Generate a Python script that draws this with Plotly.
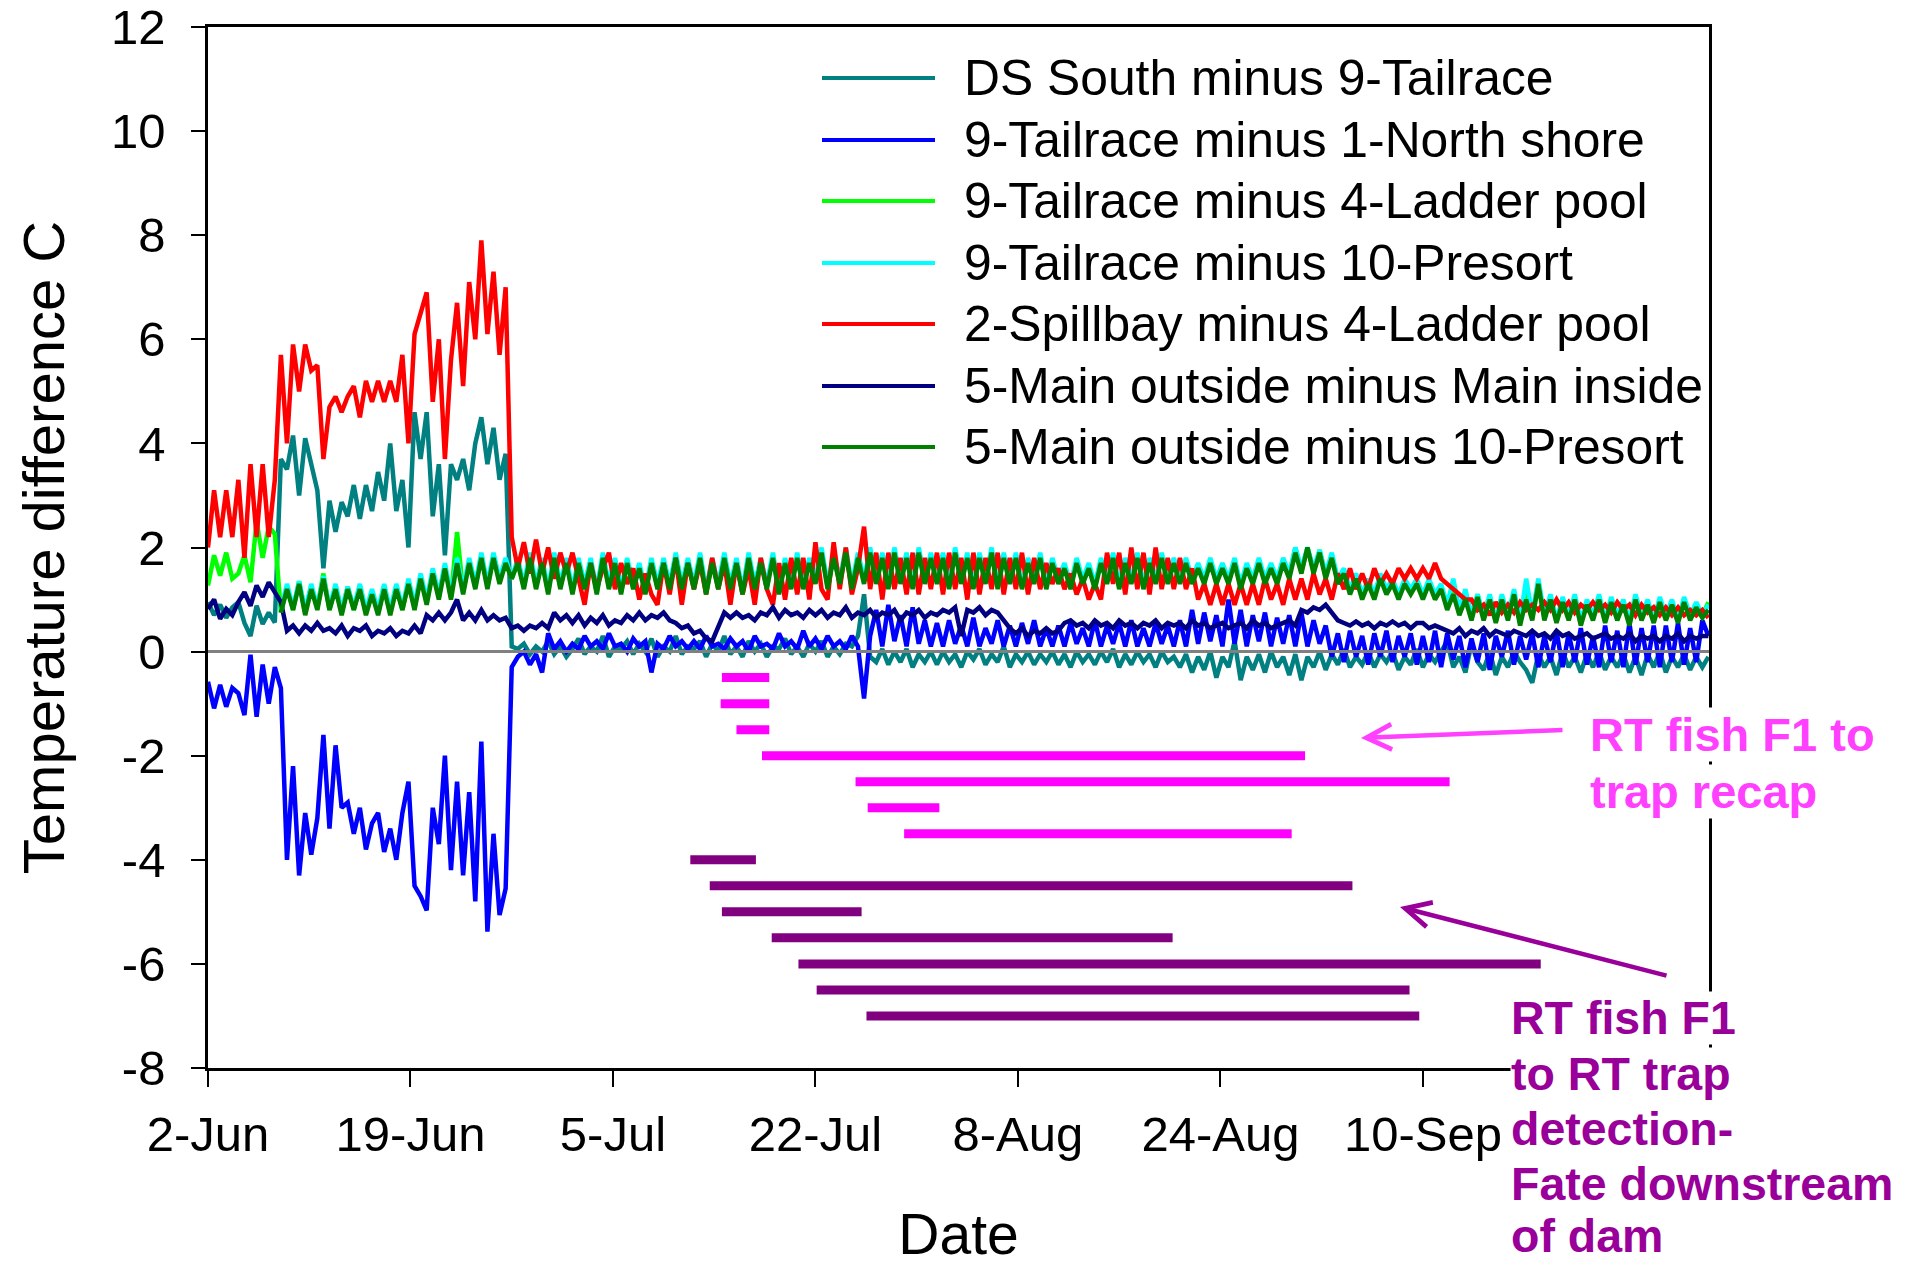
import pandas as pd
import plotly.graph_objects as go

# ---------------- data (half-day samples starting 2-Jun) ----------------
START = pd.Timestamp("2009-06-02")

tick_days = [0, 16.667, 33.333, 50, 66.667, 83.333, 100]
tick_labels = ["2-Jun", "19-Jun", "5-Jul", "22-Jul", "8-Aug", "24-Aug", "10-Sep"]
y_ticks = [-8, -6, -4, -2, 0, 2, 4, 6, 8, 10, 12]
y_labels = ["-8", "-6", "-4", "-2", "0", "2", "4", "6", "8", "10", "12"]

series_names = [
    "DS South minus 9-Tailrace",
    "9-Tailrace minus 1-North shore",
    "9-Tailrace minus 4-Ladder pool",
    "9-Tailrace minus 10-Presort",
    "2-Spillbay minus 4-Ladder pool",
    "5-Main outside minus Main inside",
    "5-Main outside minus 10-Presort",
]
series_colors = ["#008080", "#0000FF", "#00FF00", "#00FFFF", "#FF0000", "#000080", "#008000"]

ds_south_minus_tailrace = [
    0.95, 0.7, 0.9, 0.65, 0.85, 0.95, 0.55, 0.3, 0.88, 0.53, 0.75, 0.56, 3.7, 3.5, 4.15, 3.0, 4.1, 3.6, 3.1, 1.6,
    2.9, 2.3, 2.87, 2.6, 3.2, 2.55, 3.2, 2.7, 3.45, 2.9, 4.0, 2.7, 3.3, 2.0, 4.6, 3.7, 4.6, 2.6, 3.6, 1.85,
    3.6, 3.3, 3.7, 3.1, 4.0, 4.5, 3.6, 4.3, 3.3, 3.8, 0.1, 0.05, 0.15, -0.05, 0.1, 0.0, 0.2, -0.05, 0.1, -0.1,
    0.05, 0.25, -0.05, 0.1, 0.0, 0.3, -0.1, 0.1, 0.05, 0.2, -0.05, 0.15, 0.0, 0.25, -0.1, 0.1, 0.0, 0.3, -0.05, 0.1,
    0.05, 0.2, -0.1, 0.15, 0.0, 0.3, -0.05, 0.1, -0.1, 0.2, 0.0, 0.15, -0.1, 0.1, 0.05, 0.25, -0.05, 0.1, -0.1, 0.15,
    0.0, 0.2, -0.1, 0.1, -0.05, 0.15, 0.1, 0.3, 1.1, -0.1, -0.2, 0.05, -0.25, 0.0, -0.2, 0.05, -0.3, -0.05, -0.2, 0.0,
    -0.25, 0.0, -0.2, -0.05, -0.3, 0.0, -0.15, 0.05, -0.25, -0.05, -0.2, 0.1, -0.3, -0.05, -0.2, 0.0, -0.25, -0.05, -0.2, 0.0,
    -0.25, -0.05, -0.3, 0.0, -0.2, -0.05, -0.25, 0.0, -0.2, 0.05, -0.3, -0.05, -0.25, 0.0, -0.2, -0.05, -0.3, 0.0, -0.2, -0.1,
    -0.3, -0.05, -0.4, -0.1, -0.35, 0.0, -0.5, -0.1, -0.3, 0.2, -0.55, -0.1, -0.35, -0.05, -0.4, 0.0, -0.3, -0.1, -0.45, -0.05,
    -0.55, -0.1, -0.3, 0.0, -0.35, -0.05, -0.25, 0.05, -0.3, -0.1, -0.25, 0.0, -0.3, -0.05, -0.2, 0.0, -0.35, -0.1, -0.25, 0.05,
    -0.3, -0.05, -0.2, 0.0, 0.2, -0.3, -0.1, -0.4, 0.15, -0.2, -0.35, 0.0, -0.45, -0.1, -0.3, 0.0, -0.2, -0.35, -0.6, -0.05,
    -0.3, -0.1, -0.45, 0.0, -0.3, -0.1, -0.4, -0.05, -0.3, 0.0, -0.35, -0.1, -0.3, -0.05, -0.4, -0.1, -0.45, -0.05, -0.3, 0.0,
    -0.4, -0.1, -0.3, -0.05, -0.35, -0.1, -0.3, -0.1,
]

tailrace_minus_north_shore = [
    -0.58, -1.09, -0.64, -1.06, -0.7, -0.8, -1.22, -0.06, -1.25, -0.25, -1.0, -0.3, -0.7, -4.0, -2.2, -4.3, -3.1, -3.9, -3.2, -1.6,
    -3.4, -1.8, -3.0, -2.9, -3.5, -3.0, -3.8, -3.3, -3.1, -3.85, -3.4, -4.0, -3.1, -2.5, -4.5, -4.7, -4.97, -3.0, -3.7, -2.0,
    -4.2, -2.5, -4.3, -2.7, -4.8, -1.73, -5.38, -3.5, -5.06, -4.55, -0.3, -0.1, 0.0, -0.25, -0.05, -0.4, 0.35, 0.05, 0.2, 0.0,
    0.15, 0.05, 0.3, 0.1, 0.2, 0.05, 0.35, 0.1, 0.15, 0.0, 0.25, 0.1, 0.2, -0.4, 0.15, 0.05, 0.3, 0.1, 0.2, 0.05,
    0.2, 0.05, 0.3, 0.1, 0.15, 0.05, 0.25, 0.1, 0.2, 0.0, 0.3, 0.1, 0.15, 0.05, 0.35, 0.1, 0.2, 0.05, 0.4, 0.1,
    0.25, 0.05, 0.3, 0.1, 0.2, 0.05, 0.3, 0.1, -0.9, 0.3, 0.8, 0.1, 0.9, 0.2, 0.7, 0.1, 0.85, 0.15, 0.6, 0.1,
    0.55, 0.1, 0.6, 0.15, 0.5, 0.1, 0.65, 0.1, 0.45, 0.15, 0.6, 0.1, 0.5, 0.1, 0.55, 0.15, 0.6, 0.1, 0.45, 0.1,
    0.5, 0.1, 0.55, 0.15, 0.45, 0.1, 0.6, 0.1, 0.5, 0.15, 0.55, 0.1, 0.6, 0.1, 0.45, 0.1, 0.55, 0.15, 0.5, 0.1,
    0.6, 0.1, 0.8, 0.15, 0.75, 0.2, 0.7, 0.1, 1.0, 0.15, 0.8, 0.1, 0.7, 0.2, 0.75, 0.1, 0.65, 0.15, 0.7, 0.1,
    0.75, 0.1, 0.6, 0.15, 0.5, -0.1, 0.35, -0.2, 0.4, -0.1, 0.3, -0.25, 0.35, -0.1, 0.4, -0.2, 0.3, -0.1, 0.35, -0.25,
    0.3, -0.2, 0.4, -0.3, 0.35, -0.15, 0.3, -0.3, 0.25, -0.2, 0.35, -0.35, 0.3, -0.1, 0.4, -0.25, 0.3, -0.15, 0.35, -0.3,
    0.3, -0.2, 0.4, -0.3, 0.35, -0.2, 0.45, -0.25, 0.3, -0.3, 0.5, -0.2, 0.4, -0.3, 0.55, -0.25, 0.45, -0.2, 0.5, -0.3,
    0.5, -0.2, 0.55, -0.25, 0.45, -0.2, 0.6, 0.3,
]

tailrace_minus_ladder_pool = [
    1.27, 1.85, 1.46, 1.9, 1.4, 1.5, 1.85, 1.33, 2.5, 1.8, 2.4, 2.26, 0.75, 1.25, 0.8, 1.35, 0.75, 1.25, 0.85, 1.5,
    0.8, 1.25, 0.75, 1.25, 0.8, 1.25, 0.75, 1.15, 0.75, 1.25, 0.75, 1.25, 0.8, 1.35, 0.85, 1.45, 0.95, 1.55, 1.05, 1.65,
    1.05, 2.3, 1.15, 1.75, 1.25, 1.85, 1.25, 1.85, 1.35, 1.75, 1.4, 1.75, 1.25, 1.85, 1.25, 1.75, 1.15, 1.85, 1.25, 1.75,
    1.15, 1.75, 1.25, 1.75, 1.15, 1.85, 1.25, 1.75, 1.15, 1.75, 1.25, 1.65, 1.15, 1.75, 1.25, 1.75, 1.25, 1.85, 1.25, 1.75,
    1.25, 1.85, 1.15, 1.75, 1.25, 1.85, 1.25, 1.75, 1.15, 1.85, 1.25, 1.75, 1.25, 1.85, 1.15, 1.75, 1.25, 1.85, 1.25, 1.75,
    1.35, 1.95, 1.25, 1.85, 1.35, 1.95, 1.25, 1.85, 1.35, 1.95, 1.35, 1.85, 1.25, 1.95, 1.35, 1.85, 1.25, 1.95, 1.35, 1.85,
    1.35, 1.85, 1.25, 1.95, 1.35, 1.85, 1.25, 1.85, 1.35, 1.95, 1.25, 1.85, 1.35, 1.85, 1.25, 1.75, 1.35, 1.85, 1.25, 1.75,
    1.35, 1.65, 1.25, 1.75, 1.35, 1.65, 1.25, 1.75, 1.35, 1.85, 1.25, 1.75, 1.35, 1.85, 1.25, 1.75, 1.35, 1.85, 1.35, 1.75,
    1.35, 1.75, 1.35, 1.65, 1.35, 1.75, 1.35, 1.65, 1.35, 1.75, 1.25, 1.65, 1.35, 1.75, 1.35, 1.65, 1.35, 1.75, 1.45, 2.0,
    1.55, 2.0, 1.55, 1.95, 1.45, 1.85, 1.35, 1.55, 1.15, 1.45, 1.05, 1.35, 1.05, 1.45, 1.15, 1.35, 1.05, 1.35, 1.15, 1.35,
    1.05, 1.35, 1.05, 1.25, 0.85, 1.2, 0.75, 1.05, 0.65, 1.1, 0.65, 1.05, 0.6, 1.05, 0.65, 1.15, 0.55, 1.2, 0.65, 1.35,
    0.65, 1.05, 0.6, 1.0, 0.65, 1.05, 0.55, 0.95, 0.65, 1.05, 0.6, 1.0, 0.65, 0.95, 0.55, 1.05, 0.65, 0.95, 0.6, 1.0,
    0.65, 0.95, 0.6, 1.0, 0.65, 0.9, 0.7, 0.95,
]

tailrace_minus_presort = [
    None, None, None, None, None, None, None, None, None, None, None, None, 0.8, 1.3, 0.85, 1.35, 0.8, 1.3, 0.85, 1.45,
    0.85, 1.3, 0.8, 1.25, 0.85, 1.3, 0.8, 1.2, 0.8, 1.3, 0.8, 1.3, 0.85, 1.4, 0.9, 1.5, 1.0, 1.6, 1.1, 1.7,
    1.1, 1.8, 1.2, 1.8, 1.3, 1.9, 1.3, 1.9, 1.4, 1.8, 1.4, 1.8, 1.3, 1.9, 1.3, 1.8, 1.2, 1.9, 1.3, 1.8,
    1.2, 1.8, 1.3, 1.8, 1.2, 1.9, 1.3, 1.8, 1.2, 1.8, 1.3, 1.7, 1.2, 1.8, 1.3, 1.8, 1.3, 1.9, 1.3, 1.8,
    1.3, 1.9, 1.2, 1.8, 1.3, 1.9, 1.3, 1.8, 1.2, 1.9, 1.3, 1.8, 1.3, 1.9, 1.2, 1.8, 1.3, 1.9, 1.3, 1.8,
    1.4, 2.0, 1.3, 1.9, 1.4, 2.0, 1.3, 1.9, 1.4, 2.0, 1.4, 1.9, 1.3, 2.0, 1.4, 1.9, 1.3, 2.0, 1.4, 1.9,
    1.4, 1.9, 1.3, 2.0, 1.4, 1.9, 1.3, 1.9, 1.4, 2.0, 1.3, 1.9, 1.4, 1.9, 1.3, 1.8, 1.4, 1.9, 1.3, 1.8,
    1.4, 1.7, 1.3, 1.8, 1.4, 1.7, 1.3, 1.8, 1.4, 1.9, 1.3, 1.8, 1.4, 1.9, 1.3, 1.8, 1.4, 1.9, 1.4, 1.8,
    1.4, 1.8, 1.4, 1.7, 1.4, 1.8, 1.4, 1.7, 1.4, 1.8, 1.3, 1.7, 1.4, 1.8, 1.4, 1.7, 1.4, 1.8, 1.5, 2.0,
    1.6, 2.0, 1.6, 1.95, 1.5, 1.9, 1.4, 1.6, 1.2, 1.5, 1.1, 1.4, 1.1, 1.5, 1.2, 1.4, 1.1, 1.4, 1.2, 1.4,
    1.1, 1.4, 1.1, 1.3, 0.9, 1.4, 0.8, 1.2, 0.7, 1.1, 0.7, 1.1, 0.6, 1.1, 0.7, 1.2, 0.6, 1.4, 0.7, 1.4,
    0.7, 1.1, 0.6, 1.05, 0.7, 1.1, 0.6, 1.0, 0.7, 1.1, 0.6, 1.05, 0.7, 1.0, 0.6, 1.1, 0.7, 1.0, 0.6, 1.05,
    0.7, 1.0, 0.6, 1.05, 0.7, 0.95, 0.7, 0.9,
]

spillbay_minus_ladder_pool = [
    2.0, 3.1, 2.2, 3.1, 2.2, 3.3, 1.8, 3.6, 2.2, 3.6, 2.2, 3.3, 5.7, 4.0, 5.9, 5.0, 5.9, 5.4, 5.5, 3.7,
    4.7, 4.9, 4.6, 4.9, 5.1, 4.5, 5.2, 4.8, 5.2, 4.8, 5.2, 4.8, 5.7, 4.0, 6.1, 6.5, 6.9, 4.8, 6.0, 3.7,
    5.6, 6.7, 5.1, 7.1, 6.0, 7.9, 6.1, 7.3, 5.7, 7.0, 2.2, 1.6, 2.1, 1.5, 2.15, 1.5, 2.0, 1.4, 1.9, 1.5,
    1.9, 1.4, 0.9, 1.7, 1.2, 1.6, 1.9, 1.2, 1.7, 1.3, 1.6, 1.0, 1.5, 1.1, 0.9, 1.7, 1.1, 1.8, 0.9, 1.7,
    1.2, 1.7, 1.1, 1.8, 1.2, 1.7, 0.9, 1.7, 1.1, 1.6, 0.9, 1.8, 1.2, 0.9, 1.7, 1.0, 1.8, 1.1, 1.8, 1.0,
    2.1, 1.2, 1.0, 2.1, 1.2, 2.0, 1.1, 1.6, 2.4, 1.2, 1.9, 1.0, 1.9, 1.2, 1.8, 1.1, 1.9, 1.1, 1.8, 1.2,
    1.9, 1.1, 1.9, 1.2, 1.8, 1.0, 1.9, 1.1, 1.8, 1.2, 1.9, 1.1, 1.8, 1.2, 1.9, 1.1, 1.8, 1.2, 1.7, 1.3,
    1.6, 1.2, 1.5, 1.1, 1.4, 1.0, 1.3, 1.0, 1.9, 1.3, 1.9, 1.1, 2.0, 1.2, 1.9, 1.1, 2.0, 1.2, 1.8, 1.2,
    1.8, 1.2, 1.6, 1.0, 1.3, 0.9, 1.3, 0.9, 1.3, 0.9, 1.3, 0.9, 1.3, 0.9, 1.4, 1.0, 1.3, 0.9, 1.4, 1.0,
    1.4, 1.0, 1.5, 1.1, 1.4, 1.0, 1.5, 1.2, 1.6, 1.2, 1.5, 1.2, 1.6, 1.3, 1.5, 1.3, 1.6, 1.4, 1.6, 1.4,
    1.6, 1.4, 1.7, 1.4, 1.3, 1.2, 1.1, 1.0, 1.0, 0.8, 0.9, 0.7, 0.95, 0.75, 0.9, 0.75, 0.95, 0.8, 0.9, 0.8,
    0.95, 0.8, 1.0, 0.8, 0.95, 0.75, 0.9, 0.8, 0.95, 0.8, 0.9, 0.75, 0.95, 0.8, 0.9, 0.7, 0.9, 0.75, 0.85, 0.7,
    0.85, 0.7, 0.85, 0.7, 0.8, 0.7, 0.8, 0.65,
]

main_outside_minus_inside = [
    0.82, 1.0, 0.63, 0.82, 0.7, 0.95, 1.14, 0.88, 1.27, 1.05, 1.33, 1.14, 0.95, 0.4, 0.5, 0.35, 0.5, 0.4, 0.55, 0.4,
    0.45, 0.35, 0.5, 0.3, 0.45, 0.4, 0.5, 0.3, 0.4, 0.35, 0.45, 0.3, 0.4, 0.35, 0.5, 0.35, 0.7, 0.6, 0.75, 0.6,
    0.75, 1.0, 0.6, 0.75, 0.6, 0.8, 0.6, 0.7, 0.6, 0.65, 0.45, 0.5, 0.4, 0.5, 0.45, 0.55, 0.45, 0.75, 0.6, 0.7,
    0.55, 0.7, 0.5, 0.65, 0.55, 0.7, 0.5, 0.6, 0.55, 0.7, 0.6, 0.75, 0.6, 0.7, 0.65, 0.75, 0.6, 0.55, 0.45, 0.5,
    0.35, 0.4, 0.25, 0.2, 0.45, 0.75, 0.65, 0.75, 0.65, 0.7, 0.6, 0.75, 0.7, 0.85, 0.65, 0.8, 0.7, 0.75, 0.65, 0.8,
    0.7, 0.8, 0.65, 0.75, 0.7, 0.85, 0.65, 0.75, 0.7, 0.8, 0.65, 0.75, 0.7, 0.8, 0.6, 0.75, 0.7, 0.8, 0.65, 0.75,
    0.7, 0.8, 0.75, 0.85, 0.3, 0.8, 0.75, 0.85, 0.7, 0.8, 0.75, 0.6, 0.45, 0.35, 0.45, 0.3, 0.4, 0.35, 0.45, 0.35,
    0.4, 0.55, 0.6, 0.5, 0.55, 0.45, 0.6, 0.5, 0.55, 0.45, 0.6, 0.5, 0.55, 0.45, 0.55, 0.5, 0.6, 0.45, 0.55, 0.5,
    0.55, 0.45, 0.6, 0.5, 0.55, 0.45, 0.5, 0.55, 0.45, 0.5, 0.55, 0.45, 0.6, 0.5, 0.55, 0.45, 0.5, 0.55, 0.6, 0.5,
    0.8, 0.75, 0.85, 0.8, 0.9, 0.75, 0.6, 0.55, 0.5, 0.58, 0.5, 0.55, 0.45, 0.55, 0.5, 0.58, 0.5, 0.55, 0.45, 0.55,
    0.55, 0.45, 0.5, 0.45, 0.4, 0.35, 0.45, 0.3, 0.4, 0.35, 0.45, 0.3, 0.4, 0.35, 0.3, 0.4, 0.35, 0.3, 0.4, 0.3,
    0.35, 0.25, 0.4, 0.3, 0.35, 0.25, 0.3, 0.35, 0.25, 0.3, 0.35, 0.25, 0.3, 0.25, 0.35, 0.2, 0.3, 0.25, 0.3, 0.2,
    0.3, 0.25, 0.35, 0.2, 0.3, 0.25, 0.3, 0.3,
]

main_outside_minus_presort = [
    None, None, None, None, None, None, None, None, None, None, None, None, 0.75, 1.2, 0.8, 1.3, 0.7, 1.2, 0.8, 1.4,
    0.8, 1.2, 0.7, 1.2, 0.8, 1.2, 0.7, 1.1, 0.7, 1.2, 0.7, 1.2, 0.8, 1.3, 0.8, 1.4, 0.9, 1.5, 1.0, 1.6,
    1.0, 1.7, 1.1, 1.7, 1.2, 1.8, 1.2, 1.8, 1.3, 1.7, 1.4, 1.7, 1.2, 1.8, 1.2, 1.7, 1.1, 1.8, 1.2, 1.7,
    1.1, 1.7, 1.2, 1.7, 1.1, 1.8, 1.2, 1.7, 1.1, 1.7, 1.2, 1.6, 1.1, 1.7, 1.2, 1.7, 1.2, 1.8, 1.2, 1.7,
    1.2, 1.8, 1.1, 1.7, 1.2, 1.8, 1.2, 1.7, 1.1, 1.8, 1.2, 1.7, 1.2, 1.8, 1.1, 1.7, 1.2, 1.8, 1.2, 1.7,
    1.3, 1.9, 1.2, 1.8, 1.3, 1.9, 1.2, 1.8, 1.3, 1.9, 1.3, 1.8, 1.2, 1.9, 1.3, 1.8, 1.2, 1.9, 1.3, 1.8,
    1.3, 1.8, 1.2, 1.9, 1.3, 1.8, 1.2, 1.8, 1.3, 1.9, 1.2, 1.8, 1.3, 1.8, 1.2, 1.7, 1.3, 1.8, 1.2, 1.7,
    1.3, 1.6, 1.2, 1.7, 1.3, 1.6, 1.2, 1.7, 1.3, 1.8, 1.2, 1.7, 1.3, 1.8, 1.2, 1.7, 1.3, 1.8, 1.3, 1.7,
    1.3, 1.7, 1.3, 1.6, 1.3, 1.7, 1.3, 1.6, 1.3, 1.7, 1.2, 1.6, 1.3, 1.7, 1.3, 1.6, 1.3, 1.7, 1.4, 1.9,
    1.5, 2.0, 1.5, 1.9, 1.4, 1.8, 1.3, 1.5, 1.1, 1.4, 1.0, 1.3, 1.0, 1.4, 1.1, 1.3, 1.0, 1.3, 1.1, 1.3,
    1.0, 1.3, 1.0, 1.2, 0.8, 1.1, 0.7, 1.0, 0.6, 1.05, 0.6, 1.0, 0.55, 1.0, 0.6, 1.1, 0.5, 1.0, 0.6, 1.3,
    0.6, 1.0, 0.55, 0.95, 0.6, 1.0, 0.5, 0.9, 0.6, 1.0, 0.55, 0.95, 0.6, 0.9, 0.5, 1.0, 0.6, 0.9, 0.55, 0.95,
    0.6, 0.9, 0.55, 0.95, 0.6, 0.85, 0.65, 0.8,
]

# fish track bars: start / end in days after 2-Jun, y level
recap_start = [42.3, 42.2, 43.5, 45.6, 53.3, 54.3, 57.3]
recap_end = [46.2, 46.2, 46.2, 90.3, 102.2, 60.2, 89.2]
recap_level = [-0.5, -1.0, -1.5, -2.0, -2.5, -3.0, -3.5]

fate_start = [39.7, 41.3, 42.3, 46.4, 48.6, 50.1, 54.2]
fate_end = [45.1, 94.2, 53.8, 79.4, 109.7, 98.9, 99.7]
fate_level = [-4.0, -4.5, -5.0, -5.5, -6.0, -6.5, -7.0]

all_series = [
    ds_south_minus_tailrace,
    tailrace_minus_north_shore,
    tailrace_minus_ladder_pool,
    tailrace_minus_presort,
    spillbay_minus_ladder_pool,
    main_outside_minus_inside,
    main_outside_minus_presort,
]

# ---------------- figure ----------------
FONT = "Liberation Sans, Arial, Helvetica, sans-serif"
W, H = 1909, 1270
L, R, T, B = 208, 200, 27, 202
PW, PH = W - L - R, H - T - B


def day(d):
    return START + pd.Timedelta(days=d)


def px_x(px):
    return (px - L) / PW


def px_y(py):
    return (H - B - py) / PH


fig = go.Figure()

for name, color, vals in zip(series_names, series_colors, all_series):
    assert len(vals) == 248, (name, len(vals))
    xs = [day(i * 0.5) for i in range(len(vals))]
    fig.add_trace(go.Scatter(x=xs, y=vals, mode="lines", name=name,
                             line=dict(color=color, width=4.5), showlegend=False,
                             connectgaps=False))


def bar_trace(starts, ends, levels, color):
    xs, ys = [], []
    for s, e, lv in zip(starts, ends, levels):
        xs += [day(s), day(e), None]
        ys += [lv, lv, None]
    return go.Scatter(x=xs, y=ys, mode="lines", line=dict(color=color, width=9),
                      showlegend=False, hoverinfo="skip")


fig.add_trace(bar_trace(recap_start, recap_end, recap_level, "#FF00FF"))
fig.add_trace(bar_trace(fate_start, fate_end, fate_level, "#800080"))

shapes = [dict(type="line", xref="paper", x0=0, x1=1, yref="y", y0=0, y1=0,
               line=dict(color="#808080", width=3), layer="above")]

annotations = []

# manual legend
legend_y = [78, 140, 201, 263, 324, 386, 447]
for name, color, yc in zip(series_names, series_colors, legend_y):
    shapes.append(dict(type="line", xref="paper", yref="paper",
                       x0=px_x(822), x1=px_x(935), y0=px_y(yc), y1=px_y(yc),
                       line=dict(color=color, width=4), layer="above"))
    annotations.append(dict(xref="paper", yref="paper", x=px_x(962), y=px_y(yc),
                            xanchor="left", yanchor="middle", text=name, showarrow=False,
                            font=dict(family=FONT, size=49.8, color="black")))

# annotation texts
mag_lines = ["RT fish F1 to", "trap recap"]
mag_y = [734, 791]
for txt, yc in zip(mag_lines, mag_y):
    annotations.append(dict(xref="paper", yref="paper", x=px_x(1589), y=px_y(yc),
                            xanchor="left", yanchor="middle", text="<b>" + txt + "</b>",
                            showarrow=False, bgcolor="white", borderpad=0,
                            font=dict(family=FONT, size=47, color="#FF40FF")))

pur_lines = ["RT fish F1", "to RT trap", "detection-", "Fate downstream", "of dam"]
pur_y = [1018, 1074, 1129, 1184, 1236]
for i, (txt, yc) in enumerate(zip(pur_lines, pur_y)):
    annotations.append(dict(xref="paper", yref="paper", x=px_x(1510), y=px_y(yc),
                            xanchor="left", yanchor="middle", text="<b>" + txt + "</b>",
                            showarrow=False, bgcolor="white" if i < 2 else None, borderpad=0,
                            font=dict(family=FONT, size=46.5, color="#990099")))

# arrows
annotations.append(dict(xref="paper", yref="paper", x=px_x(1361), y=px_y(738),
                        ax=1564 - 1361, ay=730 - 738, axref="pixel", ayref="pixel",
                        text="", showarrow=True, arrowhead=5, arrowsize=1.1,
                        arrowwidth=4.5, arrowcolor="#FF40FF"))
annotations.append(dict(xref="paper", yref="paper", x=px_x(1400), y=px_y(907),
                        ax=1668 - 1400, ay=976 - 907, axref="pixel", ayref="pixel",
                        text="", showarrow=True, arrowhead=5, arrowsize=1.1,
                        arrowwidth=4.5, arrowcolor="#990099"))

fig.update_layout(
    width=W, height=H,
    margin=dict(l=L, r=R, t=T, b=B, pad=0, autoexpand=False),
    plot_bgcolor="white", paper_bgcolor="white",
    font=dict(family=FONT, size=49, color="black"),
    showlegend=False,
    shapes=shapes,
    annotations=annotations,
    xaxis=dict(
        type="date",
        automargin=False,
        range=[day(0), day(123.55)],
        tickvals=[day(d) for d in tick_days],
        ticktext=tick_labels,
        ticks="outside", ticklen=16, tickwidth=2, tickcolor="black",
        showline=True, linecolor="black", linewidth=2.5, mirror=True,
        showgrid=False, zeroline=False,
        tickfont=dict(family=FONT, size=49, color="black"),
        ticklabelstandoff=5,
        title=dict(text="Date", font=dict(family=FONT, size=57, color="black"), standoff=55),
    ),
    yaxis=dict(
        automargin=False,
        range=[-8, 12],
        tickvals=y_ticks, ticktext=y_labels,
        ticks="outside", ticklen=14, tickwidth=2, tickcolor="black",
        showline=True, linecolor="black", linewidth=2.5, mirror=True,
        showgrid=False, zeroline=False,
        tickfont=dict(family=FONT, size=49, color="black"),
        ticklabelstandoff=16,
        title=dict(text="Temperature difference C", font=dict(family=FONT, size=58, color="black"),
                   standoff=28),
    ),
)

fig.write_html("out.html")
